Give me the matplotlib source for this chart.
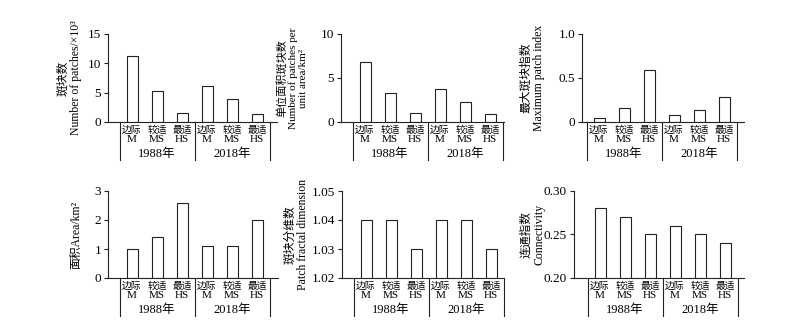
import matplotlib

matplotlib.use("Agg")

import matplotlib.pyplot as plt  # noqa: E402
import matplotlib.transforms as mtransforms  # noqa: E402

# data
cat_cn = ["边际", "较适", "最适", "边际", "较适", "最适"]
cat_en = ["M", "MS", "HS", "M", "MS", "HS"]
years = ["1988年", "2018年"]

patch_count = [11.3, 5.3, 1.5, 6.1, 3.9, 1.4]
patch_density = [6.8, 3.3, 1.0, 3.7, 2.3, 0.9]
max_patch_index = [0.05, 0.16, 0.59, 0.08, 0.14, 0.28]
area = [1.0, 1.4, 2.57, 1.12, 1.12, 2.0]
fractal_dim = [1.04, 1.04, 1.03, 1.04, 1.04, 1.03]
connectivity = [0.28, 0.27, 0.25, 0.26, 0.25, 0.24]

labels_count = ["斑块数", "Number of patches/×10³"]
labels_density = ["单位面积斑块数", "Number of patches per", "unit area/km²"]
labels_mpi = ["最大斑块指数", "Maximum patch index"]
labels_area = ["面积Area/km²"]
labels_frac = ["斑块分维数", "Patch fractal dimension"]
labels_conn = ["连通指数", "Connectivity"]

ticks_count = [0, 5, 10, 15]
ticks_density = [0, 5, 10]
ticks_mpi = [0, 0.5, 1.0]
ticklabels_mpi = ["0", "0.5", "1.0"]
ticks_area = [0, 1, 2, 3]
ticks_frac = [1.02, 1.03, 1.04, 1.05]
ticklabels_frac = ["1.02", "1.03", "1.04", "1.05"]
ticks_conn = [0.20, 0.25, 0.30]
ticklabels_conn = ["0.20", "0.25", "0.30"]

plt.rcParams["font.family"] = ["Liberation Serif", "Noto Sans CJK SC"]

W, H = 800, 329
PX_PER_UNIT = 25.0
LINE = "#222222"

fig = plt.figure(figsize=(W / 100, H / 100), dpi=100)

# (values, ylim, ticks, ticklabels, label lines, label x centers, label size,
#  axis left px, first bar px, axis right px, top px, bottom px)
panels = [
    (patch_count, (0, 15), ticks_count, None, labels_count, [63, 76], 8.5,
     108, 132, 277, 34, 122),
    (patch_density, (0, 10), ticks_density, None, labels_density, [282, 293, 304], 8,
     341, 365, 504, 34, 122),
    (max_patch_index, (0, 1.0), ticks_mpi, ticklabels_mpi, labels_mpi, [526, 539], 8.5,
     582, 599, 744, 34, 122),
    (area, (0, 3), ticks_area, None, labels_area, [76], 8.5,
     108, 132, 278, 191, 278),
    (fractal_dim, (1.02, 1.05), ticks_frac, ticklabels_frac, labels_frac, [290, 303], 8.5,
     342, 366, 504, 191, 278),
    (connectivity, (0.20, 0.30), ticks_conn, ticklabels_conn, labels_conn, [526, 539], 8.5,
     574, 600, 744, 191, 278),
]

for (vals, ylim, ticks, ticklabels, ylab, lab_x, lab_size,
     left, bar0, right, top, bottom) in panels:
    w_px = right - left
    h_px = bottom - top
    ax = fig.add_axes([left / W, 1 - bottom / H, w_px / W, h_px / H])
    x = list(range(len(vals)))
    ax.bar(x, vals, width=0.44, color="white", edgecolor=LINE, linewidth=0.8)
    ax.set_xlim((left - bar0) / PX_PER_UNIT, (right - bar0) / PX_PER_UNIT)
    ax.set_ylim(*ylim)
    ax.set_yticks(ticks)
    if ticklabels is not None:
        ax.set_yticklabels(ticklabels)
    ax.set_xticks([])
    for side in ("top", "right"):
        ax.spines[side].set_visible(False)
    for side in ("left", "bottom"):
        ax.spines[side].set_color(LINE)
        ax.spines[side].set_linewidth(0.8)
    ax.tick_params(axis="y", direction="out", length=3, width=0.8,
                   color=LINE, labelsize=9.5, pad=2)

    trans = mtransforms.blended_transform_factory(ax.transData, ax.transAxes)
    for sx in (-0.5, 2.5, 5.5):
        ax.plot([sx, sx], [0, -38 / h_px], color=LINE, linewidth=0.8,
                transform=trans, clip_on=False)
    for i in x:
        ax.text(i, -8 / h_px, cat_cn[i], ha="center", va="center",
                fontsize=7, transform=trans)
        ax.text(i, -18 / h_px, cat_en[i], ha="center", va="center",
                fontsize=8, transform=trans)
    for g, yr in enumerate(years):
        ax.text(g * 3 + 1, -32 / h_px, yr, ha="center", va="center",
                fontsize=9, transform=trans)

    for txt, px in zip(ylab, lab_x):
        ax.text((px - left) / w_px, 0.5, txt, rotation=90, ha="center",
                va="center", fontsize=lab_size, transform=ax.transAxes)

fig.savefig("out.png", dpi=100)
plt.close(fig)
